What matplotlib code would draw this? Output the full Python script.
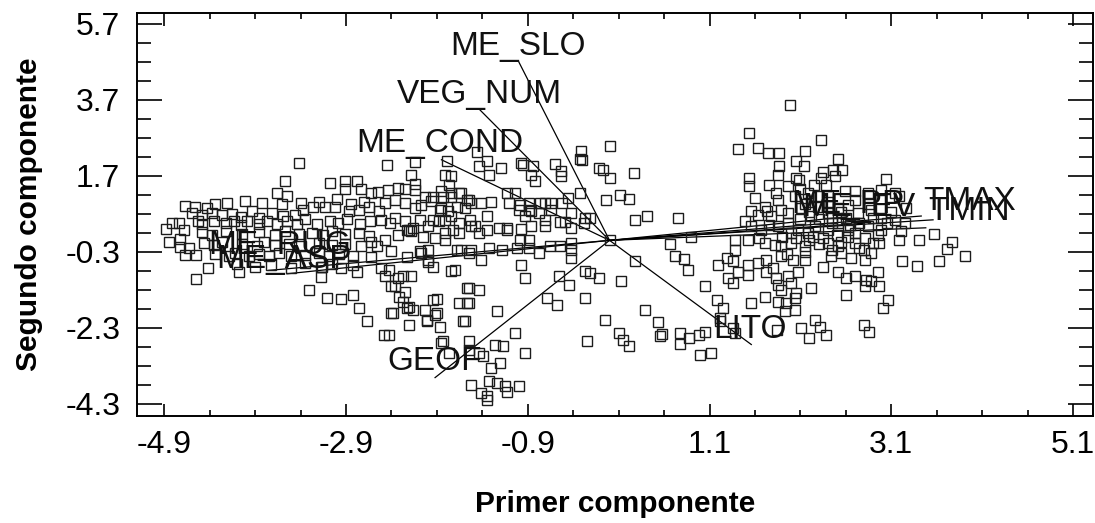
import matplotlib
matplotlib.use('Agg')
import matplotlib.pyplot as plt
import numpy as np

plt.rcParams['font.family'] = ['Liberation Sans', 'DejaVu Sans']
plt.rcParams['axes.unicode_minus'] = False

# component scores (primer, segundo)
scores_left = np.array([
    (-3.42, 2.03), (-3.57, 1.57), (-3.66, 1.25), (-3.55, 1.17), (-3.08, 1.52), (-2.91, 1.57), (-2.78, 1.55),
    (-2.91, 1.35), (-2.73, 1.35), (-2.62, 1.25),
    (-4.67, 0.91), (-4.56, 0.88), (-4.43, 0.86), (-4.34, 0.96), (-4.21, 0.98), (-4.01, 1.04), (-3.82, 0.98),
    (-3.60, 0.95), (-3.40, 0.98), (-3.20, 1.00), (-3.00, 1.10), (-2.85, 0.95), (-2.70, 1.02),
    (-4.59, 0.72), (-4.48, 0.67), (-4.37, 0.72), (-4.26, 0.67), (-4.15, 0.70), (-4.06, 0.62), (-3.93, 0.76),
    (-3.86, 0.59), (-3.71, 0.72), (-3.59, 0.65), (-3.46, 0.67), (-3.37, 0.80), (-3.26, 0.89), (-3.13, 0.89),
    (-3.02, 0.87), (-2.87, 0.76), (-2.76, 0.80), (-2.65, 0.89), (-2.54, 0.76),
    (-4.81, 0.46), (-4.74, 0.46), (-4.68, 0.28), (-4.53, 0.50), (-4.48, 0.42), (-4.35, 0.50), (-4.22, 0.45),
    (-4.13, 0.52), (-4.06, 0.40), (-3.99, 0.50), (-3.86, 0.44), (-3.77, 0.52), (-3.66, 0.42), (-3.55, 0.50),
    (-3.44, 0.44), (-3.35, 0.55), (-3.22, 0.42), (-3.08, 0.50), (-2.99, 0.45), (-2.89, 0.55), (-2.75, 0.42),
    (-2.64, 0.52), (-4.88, 0.30), (-4.85, -0.05),
    (-4.49, 0.22), (-4.37, 0.15), (-4.22, 0.25), (-4.04, 0.18), (-3.86, 0.22), (-3.68, 0.15), (-3.57, 0.25),
    (-3.42, 0.18), (-3.27, 0.20), (-3.15, 0.14), (-3.05, 0.24), (-2.91, 0.18), (-2.76, 0.20), (-2.65, 0.12),
    (-4.73, 0.04), (-4.73, -0.17), (-4.63, -0.20), (-4.46, -0.08), (-4.35, -0.12), (-4.26, -0.05), (-4.04, -0.10),
    (-3.88, -0.15), (-3.80, -0.05), (-3.68, -0.12), (-3.53, -0.10), (-3.40, -0.14), (-3.20, -0.08), (-3.05, -0.12),
    (-2.91, -0.10), (-2.73, -0.15), (-2.62, -0.05),
    (-4.67, -0.38), (-4.55, -0.38), (-4.34, -0.35), (-4.19, -0.40), (-4.12, -0.32), (-3.97, -0.42), (-3.86, -0.36),
    (-3.75, -0.40), (-3.64, -0.34), (-3.50, -0.42), (-3.35, -0.38), (-3.20, -0.33), (-3.09, -0.41), (-2.98, -0.36),
    (-2.82, -0.40),
    (-4.42, -0.72), (-4.55, -1.01), (-4.08, -0.83), (-4.10, -0.62), (-3.90, -0.70), (-3.72, -0.65), (-3.50, -0.72),
    (-3.35, -0.60), (-3.18, -0.70), (-3.05, -0.62), (-2.95, -0.72), (-2.82, -0.66),
    (-3.16, -0.69), (-3.18, -0.97), (-2.78, -0.84), (-3.31, -1.30), (-3.11, -1.52), (-2.95, -1.54), (-2.82, -1.44),
    (-2.76, -1.78), (-2.67, -2.13),
])

scores_mid = np.array([
    (-2.45, 1.97), (-2.14, 2.05), (-1.79, 2.10), (-2.18, 1.71), (-2.14, 1.49), (-1.81, 1.71), (-1.74, 1.68),
    (-1.77, 1.46),
    (-2.55, 1.26), (-2.44, 1.33), (-2.33, 1.38), (-2.25, 1.36), (-2.14, 1.33), (-2.03, 1.15), (-1.94, 1.15),
    (-1.85, 1.29), (-1.74, 1.24), (-1.63, 1.24),
    (-2.47, 0.98), (-2.36, 1.07), (-2.25, 0.98), (-2.14, 0.85), (-2.07, 0.94), (-1.96, 1.03), (-1.87, 0.81),
    (-1.78, 0.76), (-1.68, 0.89), (-1.59, 0.85), (-1.55, 1.07),
    (-2.51, 0.54), (-2.36, 0.59), (-2.25, 0.50), (-2.16, 0.32), (-2.09, 0.54), (-1.94, 0.54), (-1.81, 0.54),
    (-1.74, 0.63), (-1.66, 0.45), (-2.42, 0.45),
    (-2.47, 0.02), (-2.33, 0.15), (-2.23, 0.28), (-2.18, 0.24), (-2.05, 0.08), (-1.92, 0.06), (-1.81, 0.02),
    (-1.66, 0.20),
    (-2.56, -0.16), (-2.41, -0.29), (-2.23, -0.44), (-2.09, -0.29), (-2.00, -0.56), (-1.94, -0.69), (-1.74, -0.80),
    (-1.63, -0.25), (-1.55, -0.34),
    (-2.40, -1.21), (-2.32, -1.48), (-2.27, -1.61), (-2.23, -1.78), (-2.16, -1.82), (-2.40, -1.91), (-2.01, -2.13),
    (-1.90, -1.55), (-1.90, -1.90), (-1.87, -2.27), (-2.48, -2.48), (-1.83, -2.66),
    (-2.47, -0.95), (-2.33, -1.00), (-2.27, -0.95), (-2.18, -0.95), (-2.51, -0.73), (-2.43, -0.77),
    (-1.57, -1.26), (-1.66, -1.65), (-1.57, -1.65), (-1.59, -2.13), (-2.25, -1.35), (-2.36, -1.21), (-2.38, -1.91),
    (-2.21, -1.74), (-1.94, -1.56), (-2.03, -1.83), (-1.92, -1.96), (-2.01, -2.09), (-2.21, -2.22), (-2.43, -2.49),
    (-1.61, -2.13), (-1.55, -1.65), (-1.44, -1.30), (-1.55, -1.26), (-1.24, -1.87), (-1.04, -2.44), (-0.93, -2.97),
    (-1.86, -2.70), (-1.77, -2.97), (-1.55, -2.66), (-1.55, -2.88), (-1.44, -2.97), (-1.30, -3.36), (-1.39, -3.05),
    (-1.21, -3.23), (-1.26, -2.75), (-1.17, -2.79), (-1.52, -3.80), (-1.33, -3.71), (-1.24, -3.76), (-1.15, -3.84),
    (-1.00, -3.84), (-1.41, -4.02), (-1.35, -4.19), (-1.13, -3.98), (-1.35, -4.10),
    (-1.46, 2.33), (-1.35, 2.08), (-1.44, 1.95), (-1.33, 1.73), (-1.19, 1.90), (-0.97, 2.03), (-0.95, 1.97),
    (-0.84, 1.95), (-0.60, 2.01), (-0.53, 1.82), (-0.53, 1.68), (-0.86, 1.73), (-0.82, 1.55), (-0.31, 2.36),
    (-0.33, 2.15), (-0.30, 2.12), (0.00, 2.49), (0.27, 1.78), (-0.12, 1.90), (-0.07, 1.86), (0.00, 1.64),
    (-0.32, 1.24), (-0.46, 1.12), (-0.64, 0.98), (-0.76, 0.98), (-0.89, 0.98), (-0.98, 0.94), (-1.13, 1.24),
    (-1.04, 1.24), (-1.11, 0.98), (-1.00, 0.81), (-0.89, 0.81), (-0.78, 0.72), (-0.71, 0.98), (-0.64, 0.81),
    (-0.52, 0.98), (-0.42, 0.72), (-0.27, 0.59), (-0.49, 0.49), (-0.55, 0.49), (-0.71, 0.54), (-0.93, 0.63),
    (-0.86, 0.76), (-1.13, 0.28), (-0.86, 0.37), (-0.71, 0.37), (-0.42, 0.32), (-0.28, 0.45), (-0.22, 0.59),
    (-1.83, 1.15), (-1.75, 1.15), (-1.66, 1.24), (-1.57, 1.07), (-1.52, 0.98), (-1.41, 0.98), (-1.30, 1.02),
    (-1.85, 0.85), (-1.54, 0.54), (-1.48, 0.37), (-1.35, 0.63), (-1.88, 0.50), (-2.21, 0.28), (-2.00, 0.37),
    (-1.81, 0.19), (-1.72, 0.28), (-1.52, 0.37), (-1.44, 0.19), (-1.35, 0.28), (-1.22, 0.32), (-1.13, 0.33),
    (-0.97, 0.29), (-0.99, 0.00), (-0.89, 0.00), (-1.33, -0.21), (-1.52, -0.25), (-1.68, -0.25), (-2.00, -0.25),
    (-2.07, -0.34), (-2.62, -0.43), (-2.00, -0.51), (-1.70, -0.77), (-1.41, -0.51), (-1.18, -0.25), (-1.02, -0.21),
    (-0.89, -0.21), (-0.78, -0.34), (-0.66, -0.16), (-0.55, -0.16), (-0.42, -0.08), (-0.42, -0.25), (-0.42, -0.47),
    (-0.27, -0.81), (-0.97, -0.64), (-0.93, -0.99),
    (-0.56, -0.95), (-0.69, -1.52), (-0.58, -1.69), (-0.45, -1.17), (-0.27, -1.52), (-0.22, -0.86), (-0.12, -0.99),
    (-0.05, -2.09), (0.10, -2.44), (0.15, -2.62), (0.21, -2.79), (0.39, -1.83), (-0.25, -2.66), (0.13, -1.08),
    (0.28, -0.55), (0.41, 0.63), (0.28, 0.54), (0.12, 1.18), (0.21, 1.09), (-0.04, 1.05),
    (0.00, 0.00), (0.75, 0.60), (0.90, 0.09), (0.67, -0.09), (0.72, -0.40), (0.82, -0.48), (0.86, -0.77),
    (0.53, -2.16), (0.58, -2.46), (0.55, -2.51), (0.77, -2.44), (0.77, -2.73), (0.87, -2.57), (0.98, -2.49),
    (1.05, -2.42), (1.00, -3.01), (1.12, -2.97),
])

scores_right = np.array([
    (1.99, 3.57), (1.54, 2.82), (1.41, 2.40), (1.63, 2.44), (1.74, 2.30), (1.86, 2.30), (2.33, 2.63), (2.15, 2.36),
    (2.51, 2.14), (2.56, 1.84), (2.46, 1.86), (2.48, 1.68), (2.35, 1.81), (2.33, 1.64), (2.05, 2.08), (2.14, 1.96),
    (1.87, 1.96), (1.85, 1.72), (2.05, 1.64), (2.09, 1.60), (1.54, 1.64), (1.54, 1.42), (1.76, 1.46), (1.83, 1.24),
    (1.96, 1.42), (2.04, 1.16), (2.18, 1.24), (2.29, 1.16), (2.40, 1.16), (2.59, 1.29), (2.70, 1.29), (2.84, 1.24),
    (2.99, 1.33), (3.04, 1.61), (3.14, 1.24), (3.19, 1.16), (3.26, 0.85),
    (1.60, 1.11), (1.71, 0.89), (1.56, 0.76), (1.49, 0.50), (1.63, 0.67), (1.78, 0.63), (1.89, 0.81), (1.96, 0.72),
    (2.11, 0.85), (2.22, 0.63), (2.29, 0.89), (2.40, 0.72), (2.51, 0.85), (2.62, 0.94), (2.73, 0.72), (2.88, 0.81),
    (2.99, 0.59), (3.14, 0.54), (3.25, 0.46),
    (1.56, 0.37), (1.67, 0.28), (1.85, 0.37), (1.96, 0.46), (2.07, 0.28), (2.18, 0.19), (2.26, 0.37), (2.40, 0.28),
    (2.51, 0.46), (2.62, 0.28), (2.70, 0.19), (2.84, 0.37), (2.99, 0.28), (3.21, 0.24),
    (1.38, 0.02), (1.52, 0.02), (1.71, -0.07), (1.82, -0.12), (1.89, -0.16), (2.00, -0.07), (2.15, -0.16),
    (2.24, 0.10), (2.40, -0.07), (2.51, -0.16), (2.62, 0.10), (2.70, -0.07), (2.81, 0.06), (2.90, -0.07),
    (2.97, -0.07), (3.19, 0.02), (3.41, 0.02), (3.57, 0.17), (3.71, -0.23), (3.77, -0.05), (3.91, -0.40),
    (3.62, -0.53), (3.38, -0.67), (3.22, -0.55),
    (1.19, -0.66), (1.29, -0.47), (1.36, -0.55), (1.52, -0.64), (1.63, -0.60), (1.72, -0.51), (1.80, -0.73),
    (1.89, -0.42), (2.02, -0.51), (2.15, -0.51), (2.35, -0.69), (2.44, -0.42), (2.55, -0.34), (2.66, -0.47),
    (2.81, -0.51), (2.88, -0.34),
    (1.41, -0.82), (1.52, -0.91), (1.72, -0.82), (1.83, -0.99), (1.96, -0.95), (2.07, -0.82), (2.22, -1.26),
    (2.51, -0.82), (2.60, -0.99), (2.70, -0.95), (2.82, -1.04), (2.88, -1.08), (2.95, -0.82), (1.30, -0.99),
    (1.36, -1.12), (1.05, -1.21),
    (1.85, -1.17), (1.89, -1.30), (2.00, -1.12), (2.05, -1.39), (1.94, -1.65), (2.04, -1.52), (2.04, -1.83),
    (1.93, -1.87), (1.85, -1.61), (1.71, -1.48), (1.56, -1.65), (2.60, -1.43), (2.81, -1.21), (2.97, -1.21),
    (3.06, -1.56), (3.01, -1.78),
    (1.18, -1.56), (1.25, -1.78), (1.21, -2.05), (1.22, -2.11), (1.36, -2.31), (1.38, -2.44), (1.84, -2.35),
    (2.11, -2.31), (2.26, -2.09), (2.32, -2.28), (2.20, -2.57), (2.38, -2.50), (2.80, -2.22), (2.86, -2.40),
    (1.38, -0.25), (1.73, 0.76),
    (2.30, 0.55), (2.45, 0.45), (2.20, 0.00), (2.00, 0.20), (2.60, 0.60), (2.75, 0.45), (2.55, -0.05), (2.10, 0.55),
    (2.35, 0.05), (2.15, -0.30), (1.95, -0.35), (2.45, -0.25), (2.75, -0.20), (2.95, 0.15), (3.05, 0.45),
    (2.25, 1.45), (2.10, 1.35), (2.40, 1.00), (2.70, 1.05), (2.85, 0.95), (1.85, 1.05), (1.75, 0.40), (1.65, 0.05),
    (2.55, 0.75), (2.38, 1.45), (2.15, 0.95), (2.30, -0.10), (2.05, 0.05), (2.65, 0.40), (2.90, 0.60),
    (3.10, 0.75), (2.20, 0.75), (2.45, 0.60), (1.90, 0.10), (2.50, 0.15), (2.80, -0.25),
])

# variable vectors (loadings scaled as in the plot)
var_names = ['ME_SLO', 'VEG_NUM', 'ME_COND', 'ME_RUG', 'ME_ASP', 'GEOF', 'LITO',
             'TMAX', 'TMIN', 'ME_PP', 'ME_EV']
load_x = [-1.00, -1.43, -1.85, -3.75, -3.55, -1.92, 1.56, 3.43, 3.48, 2.62, 2.80]
load_y = [4.70, 3.44, 2.12, -0.79, -0.88, -3.61, -2.74, 0.64, 0.33, 0.62, 0.45]
# third long vector on the right, drawn without its own readable name
extra_x = [3.56]
extra_y = [0.54]
# where each name is written
lab_x = [-1.01, -1.43, -1.87, -3.63, -3.58, -1.92, 1.55, 3.45, 3.51, 2.62, 2.74]
lab_y = [4.88, 3.62, 2.33, -0.35, -0.72, -3.41, -2.56, 0.81, 0.54, 0.72, 0.64]
lab_ha = ['center'] * 7 + ['left'] * 2 + ['center'] * 2

xticks = np.arange(-4.9, 5.2, 2.0)
yticks = np.arange(-4.3, 5.8, 2.0)

fig = plt.figure(figsize=(10.95, 5.23), dpi=100)
ax = fig.add_axes([137 / 1095, 1 - 416 / 523, (1093 - 137) / 1095, (416 - 13) / 523])

for vx, vy in zip(load_x + extra_x, load_y + extra_y):
    ax.plot([0, vx], [0, vy], color='black', lw=0.9, zorder=2)

allpts = np.vstack([scores_left, scores_mid, scores_right])
ax.plot(allpts[:, 0], allpts[:, 1], 's', ms=6.5, mfc='none', mec='#1c1c1c', mew=1.0, zorder=3)

for name, tx, ty, ha in zip(var_names, lab_x, lab_y, lab_ha):
    ax.text(tx, ty, name, fontsize=24, ha=ha, va='baseline', color='#111111', zorder=4)

ax.set_xlim(-5.2, 5.32)
ax.set_ylim(-4.62, 5.98)
ax.set_xticks(xticks)
ax.set_xticklabels(['%.1f' % t for t in xticks])
ax.set_yticks(yticks)
ax.set_yticklabels(['%.1f' % t for t in yticks])
ax.set_xticks(np.arange(-4.9, 5.3, 0.5), minor=True)
ax.set_yticks(np.arange(-4.3, 5.9, 0.5), minor=True)

ax.tick_params(which='both', direction='in', top=True, right=True, labelsize=23, width=1.2)
ax.tick_params(axis='x', which='major', length=9, pad=10)
ax.tick_params(axis='x', which='minor', length=4.5)
ax.tick_params(axis='y', which='major', length=18, pad=12)
ax.tick_params(axis='y', which='minor', length=10)
for sp in ax.spines.values():
    sp.set_linewidth(1.4)

ax.set_xlabel('Primer componente', fontsize=21.5, fontweight='bold', labelpad=22)
ax.set_ylabel('Segundo componente', fontsize=21.5, fontweight='bold', labelpad=16)

fig.savefig('out.png', dpi=100)
